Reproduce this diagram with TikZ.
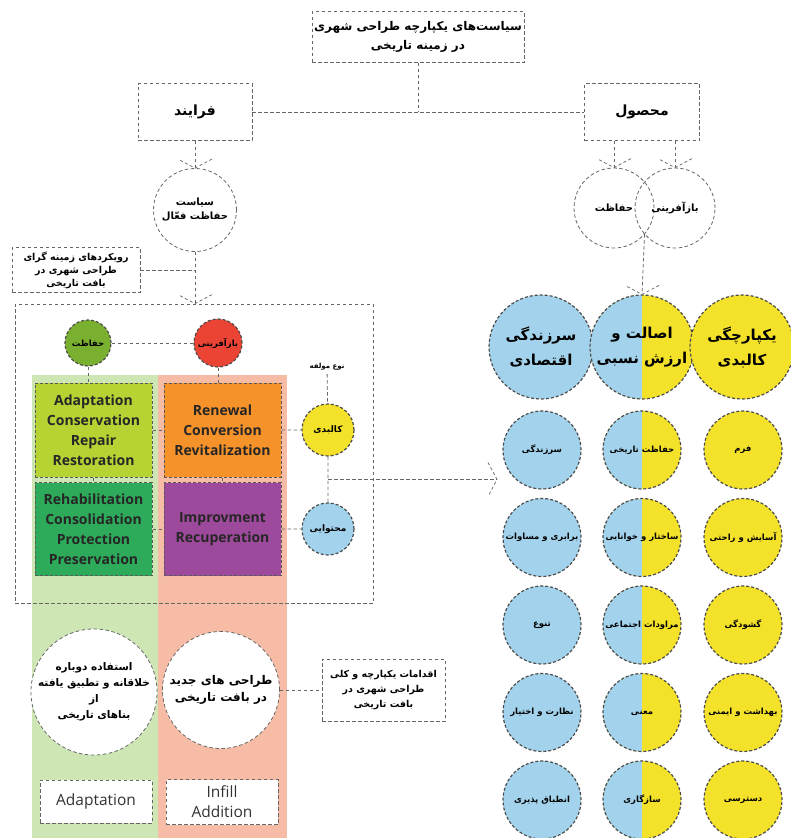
\documentclass[tikz,border=0pt]{standalone}
\usepackage{fontspec}
\setmainfont{Open Sans}
\newfontfamily\arabicfont[Script=Arabic]{DejaVu Sans}
\TeXXeTstate=1
\newcommand{\fa}[1]{{\arabicfont\bfseries\beginR #1\endR}}
\usetikzlibrary{backgrounds,calc}

\definecolor{colgreen}{RGB}{205,230,180}
\definecolor{colsalmon}{RGB}{246,188,165}
\definecolor{cadapt}{RGB}{182,211,52}
\definecolor{crenew}{RGB}{245,146,42}
\definecolor{crehab}{RGB}{45,170,90}
\definecolor{cimprove}{RGB}{158,74,156}
\definecolor{cgreen}{RGB}{122,176,48}
\definecolor{cred}{RGB}{235,68,52}
\definecolor{cyellow}{RGB}{244,225,42}
\definecolor{cblue}{RGB}{163,211,236}

\tikzset{chev/.pic={\draw[draw=black!55, line width=0.8pt, dash pattern=on 3pt off 2.5pt] (-9,-17) -- (0,0) -- (-9,17);}}

\begin{document}
\begin{tikzpicture}[x=1pt,y=-1pt]
    % `dline' is used for the grey dashed connectors and frames.
    % `ccirc' is used for the coloured circles, `half' for the split ones.
    % `cbox' is used for the four coloured action boxes.
    \tikzstyle{dline} = [draw=black!60, line width=0.8pt, dash pattern=on 3.5pt off 2.5pt]
    \tikzstyle{dbox} = [dline, rectangle, inner sep=2pt, align=center]
    \tikzstyle{dcirc} = [dline, circle, inner sep=0pt, align=center]
    \tikzstyle{ccirc} = [circle, draw=black!70, line width=1.2pt, dash pattern=on 3pt off 2pt, inner sep=0pt, align=center]
    \tikzstyle{half} = [ccirc, fill=cyellow, path picture={\fill[cblue] (path picture bounding box.south west) rectangle (path picture bounding box.north);}]
    \tikzstyle{cbox} = [rectangle, draw=black!65, line width=1pt, dash pattern=on 3pt off 2pt, minimum width=117pt, align=center, text=black!85, font=\fontsize{14}{20}\selectfont\bfseries]
    \useasboundingbox (0,0) rectangle (790,838);
    %
    % top of the tree
    \node[dbox, minimum width=212pt, minimum height=51pt, font=\fontsize{12}{19}\selectfont] (policy) at (418,37) {\fa{سیاست‌های یکپارچه طراحی شهری}\\\fa{در زمینه تاریخی}};
    \node[dbox, minimum width=114pt, minimum height=57pt, font=\fontsize{14}{17}\selectfont] (process) at (195,112) {\fa{فرایند}};
    \node[dbox, minimum width=115pt, minimum height=57pt, font=\fontsize{14}{17}\selectfont] (product) at (642,112) {\fa{محصول}};
    \coordinate (join) at (policy.south |- process.east);
    \draw[dline] (process.east) -- (product.west)   (policy.south) -- (join);
    %
    % left branch
    \node[dcirc, minimum size=83pt, font=\fontsize{10}{14}\selectfont] (active) at (195,210) {\fa{سیاست}\\\fa{حفاظت فعّال}};
    \draw[dline] (process.south) -- (active.north);
    \pic[rotate=-90] at (active.north) {chev};
    \node[dbox, minimum width=128pt, minimum height=45pt, font=\fontsize{9.5}{13}\selectfont] (context) at (76,270) {\fa{رویکردهای زمینه گرای}\\\fa{طراحی شهری در}\\\fa{بافت تاریخی}};
    \node[dline, minimum width=358pt, minimum height=299pt] (frame) at (194,453.5) {};
    \coordinate (framein) at (active.south |- frame.north);
    \draw[dline] (active.south) -- (framein)   (context.east) -- (context.east -| active.south);
    \pic[rotate=-90] at (framein) {chev};
    \begin{pgfonlayer}{background}
        % Draw the two coloured columns.
        \fill[colgreen] (32,375) rectangle (158,838);
        \fill[colsalmon] (158,375) rectangle (287,838);
    \end{pgfonlayer}
    \node[ccirc, fill=cgreen, minimum size=46pt, font=\fontsize{8.5}{11}\selectfont] (cons) at (88,343) {\fa{حفاظت}};
    \node[ccirc, fill=cred, minimum size=48pt, font=\fontsize{8.5}{11}\selectfont] (regen) at (218,343) {\fa{بازآفرینی}};
    \draw[dline] (cons) -- (regen);
    \node[cbox, fill=cadapt, minimum height=94pt] (adapt) at (93.5,430) {Adaptation\\Conservation\\Repair\\Restoration};
    \node[cbox, fill=crenew, minimum height=94pt] (renew) at (222.5,430) {Renewal\\Conversion\\Revitalization};
    \node[cbox, fill=crehab, minimum height=93pt] (rehab) at (93.5,529) {Rehabilitation\\Consolidation\\Protection\\Preservation};
    \node[cbox, fill=cimprove, minimum height=93pt] (improve) at (222.5,529) {Improvment\\Recuperation};
    \draw[dline] (cons.south) -- (cons.south |- adapt.north)   (regen.south) -- (regen.south |- renew.north);
    \draw[dline] (adapt) -- (renew)   (rehab) -- (improve)   (adapt) -- (rehab)   (renew) -- (improve);
    \node[font=\fontsize{7}{8}\selectfont] (kind) at (327,367) {\fa{نوع مولفه}};
    \node[ccirc, fill=cyellow, minimum size=52pt, font=\fontsize{9}{11}\selectfont] (phys) at (328,430) {\fa{کالبدی}};
    \node[ccirc, fill=cblue, minimum size=52pt, font=\fontsize{9}{11}\selectfont] (cont) at (328,529) {\fa{محتوایی}};
    \draw[dline] (kind) -- (phys)   (phys) -- (cont)   (renew) -- (phys)   (improve) -- (cont);
    \coordinate (tap) at ($(phys)!0.5!(cont)$);
    \coordinate (gridin) at (497,479.5);
    \draw[dline] (tap) -- (gridin);
    \pic at (gridin) {chev};
    %
    % bottom of the left branch
    \node[dcirc, fill=white, minimum size=120pt, font=\fontsize{10.5}{16}\selectfont] (reuse) at (94,692) {\fa{استفاده دوباره}\\\fa{خلاقانه و تطبیق یافته}\\\fa{از}\\\fa{بناهای تاریخی}};
    \node[dcirc, fill=white, minimum size=117pt, font=\fontsize{12}{17}\selectfont] (infill) at (221,690) {\fa{طراحی های جدید}\\\fa{در بافت تاریخی}};
    \node[dbox, minimum width=123pt, minimum height=62pt, font=\fontsize{9.5}{15}\selectfont] (acts) at (383.5,690) {\fa{اقدامات یکپارچه و کلی}\\\fa{طراحی شهری در}\\\fa{بافت تاریخی}};
    \draw[dline] (infill) -- (acts);
    \node[dbox, fill=white, minimum width=112pt, minimum height=43pt, text=black!80, font=\fontsize{15.5}{20}\selectfont] (adaptlbl) at (96,801.5) {Adaptation};
    \node[dbox, fill=white, minimum width=112pt, minimum height=45pt, text=black!80, font=\fontsize{15.5}{20}\selectfont] (addlbl) at (222,802) {Infill\\Addition};
    %
    % right branch
    \node[dcirc, minimum size=80pt, font=\fontsize{10}{12}\selectfont] (rcons) at (614,208) {\fa{حفاظت}};
    \node[dcirc, minimum size=80pt, font=\fontsize{10}{12}\selectfont] (rregen) at (675,208) {\fa{بازآفرینی}};
    \draw[dline] (product.south -| rcons.north) -- (rcons.north)   (product.south -| rregen.north) -- (rregen.north);
    \pic[rotate=-90] at (rcons.north) {chev};
    \pic[rotate=-90] at (rregen.north) {chev};
    \coordinate (meet) at (644.5,234);
    \node[ccirc, fill=cblue, minimum size=104pt, font=\fontsize{15}{25}\selectfont] (vital) at (541,347) {\fa{سرزندگی}\\\fa{اقتصادی}};
    \node[half, minimum size=104pt, font=\fontsize{15}{25}\selectfont] (auth) at (642,347) {\fa{اصالت و}\\\fa{ارزش نسبی}};
    \node[ccirc, fill=cyellow, minimum size=104pt, font=\fontsize{15}{25}\selectfont] (unity) at (742,347) {\fa{یکپارچگی}\\\fa{کالبدی}};
    \draw[dline] (meet) -- (auth.north);
    \pic[rotate=-90] at (auth.north) {chev};
    \foreach \a/\b/\c [count=\i] in {سرزندگی/حفاظت تاریخی/فرم, برابری و مساوات/ساختار و خوانایی/آسایش و راحتی, تنوع/مراودات اجتماعی/گشودگی, نظارت و اختیار/معنی/بهداشت و ایمنی, انطباق پذیری/سازگاری/دسترسی} {
        \node[ccirc, fill=cblue, minimum size=78pt, font=\fontsize{8.5}{10}\selectfont] (vit\i) at (542,{362.5+87.5*\i}) {\fa{\a}};
        \node[half, minimum size=78pt, font=\fontsize{8.5}{10}\selectfont] (aut\i) at (642,{362.5+87.5*\i}) {\fa{\b}};
        \node[ccirc, fill=cyellow, minimum size=78pt, font=\fontsize{8.5}{10}\selectfont] (uni\i) at (743,{362.5+87.5*\i}) {\fa{\c}};
    }
\end{tikzpicture}
\end{document}
